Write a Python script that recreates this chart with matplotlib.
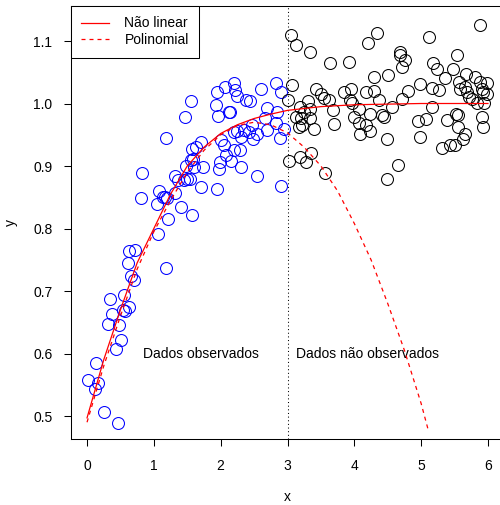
import matplotlib
matplotlib.use("Agg")
import matplotlib.pyplot as plt
from matplotlib.lines import Line2D

plt.rcParams['font.family'] = ['Liberation Sans', 'DejaVu Sans']

# Observed data (blue), x in [0, 3]
obs_x = [0.607, 1.179, 0.657, 0.706, 0.348, 0.557, 0.369, 0.533, 0.631, 0.567,
         0.309, 0.482, 0.507, 0.433, 0.134, 0.010, 0.160, 0.119, 0.258, 0.463,
         1.179, 0.821, 1.313, 1.363, 1.079, 1.313, 1.130, 1.204, 1.174, 0.806,
         1.045, 1.219, 1.064, 0.631, 0.721,
         2.199, 2.064, 1.951, 2.213, 2.249, 2.373, 2.433, 2.607, 2.831, 2.906,
         1.563, 1.936, 1.966, 2.124, 2.139, 1.473, 2.697, 2.846, 2.661, 2.821,
         2.473, 2.955, 2.885, 2.687, 2.548, 2.488, 2.422, 2.348, 2.299, 2.199,
         2.249, 2.000, 2.049, 1.701, 1.627, 1.578, 2.199, 2.288, 2.075, 2.149,
         1.990, 1.970, 2.299, 1.742, 1.593, 1.563, 1.478, 1.601, 2.537, 2.896,
         1.701, 1.940, 1.452, 1.542, 1.403, 1.503, 1.578]
obs_y = [0.745, 0.737, 0.724, 0.717, 0.687, 0.693, 0.664, 0.670, 0.674, 0.668,
         0.648, 0.645, 0.621, 0.607, 0.585, 0.558, 0.553, 0.544, 0.507, 0.489,
         0.945, 0.889, 0.884, 0.877, 0.860, 0.857, 0.850, 0.849, 0.850, 0.849,
         0.839, 0.815, 0.791, 0.764, 0.765,
         1.033, 1.027, 1.019, 1.022, 1.012, 1.006, 1.004, 1.023, 1.033, 1.018,
         1.004, 0.997, 0.980, 0.987, 0.986, 0.979, 0.993, 0.986, 0.977, 0.969,
         0.966, 0.960, 0.945, 0.957, 0.952, 0.943, 0.955, 0.958, 0.947, 0.954,
         0.956, 0.941, 0.934, 0.938, 0.930, 0.927, 0.925, 0.925, 0.918, 0.908,
         0.906, 0.896, 0.898, 0.898, 0.912, 0.909, 0.900, 0.898, 0.884, 0.868,
         0.867, 0.863, 0.878, 0.880, 0.834, 0.879, 0.822]

# Unobserved data (black), x in [3, 6]
new_x = [3.045, 3.134, 3.343, 4.339, 4.199, 3.631, 3.925, 3.070, 3.004, 3.433,
         3.503, 3.542, 3.627, 3.840, 3.955, 3.940, 3.966, 4.179, 4.299, 4.288,
         4.369, 4.497, 3.303, 3.194, 3.343, 3.243, 3.134, 3.204, 3.343, 3.219,
         3.169, 3.393, 3.676, 3.691, 4.064, 4.000, 4.228, 4.064, 4.179, 4.228,
         4.090, 4.413, 4.488, 3.194, 3.354, 3.284, 3.019, 3.557, 4.488,
         5.881, 5.124, 4.687, 4.687, 4.761, 4.712, 5.533, 5.175, 5.243, 5.482,
         5.358, 5.672, 5.806, 5.881, 5.990, 5.572, 5.657, 5.582, 5.682, 5.721,
         5.757, 5.906, 5.930, 5.981, 5.840, 5.940, 4.985, 5.160, 5.273, 4.796,
         4.716, 4.563, 5.160, 4.437, 4.960, 5.075, 5.393, 5.522, 5.557, 5.557,
         5.906, 5.930, 5.657, 5.631, 5.507, 5.433, 5.309, 4.985, 4.661]
new_y = [1.109, 1.093, 1.082, 1.112, 1.097, 1.065, 1.066, 1.029, 1.006, 1.023,
         1.015, 1.009, 1.006, 1.019, 1.023, 1.005, 1.001, 1.018, 1.043, 1.020,
         1.006, 1.046, 1.004, 0.994, 0.992, 0.986, 0.979, 0.977, 0.977, 0.965,
         0.962, 0.960, 0.990, 0.968, 0.992, 0.979, 0.983, 0.969, 0.965, 0.956,
         0.952, 0.981, 0.944, 0.914, 0.921, 0.906, 0.908, 0.889, 0.880,
         1.126, 1.106, 1.082, 1.077, 1.069, 1.059, 1.077, 1.065, 1.056, 1.056,
         1.041, 1.048, 1.043, 1.035, 1.033, 1.035, 1.027, 1.023, 1.018, 1.011,
         1.008, 1.024, 1.018, 1.015, 1.001, 1.001, 1.031, 1.025, 1.022, 1.020,
         1.008, 0.995, 0.994, 0.979, 0.972, 0.976, 0.974, 0.984, 0.981, 0.963,
         0.978, 0.963, 0.952, 0.944, 0.934, 0.933, 0.929, 0.947, 0.902]

# Non-linear fit curve
nl_x = [0.0, 0.25, 0.5, 0.75, 1.0, 1.25, 1.5, 1.75, 2.0, 2.25, 2.5, 2.75, 3.0,
        3.5, 4.0, 4.5, 5.0, 5.5, 6.0]
nl_y = [0.497, 0.59, 0.67, 0.745, 0.80, 0.855, 0.90, 0.93, 0.952, 0.966, 0.976,
        0.983, 0.989, 0.995, 0.998, 0.999, 1.0, 1.0, 1.0]

# Polynomial fit curve
pol_x = [0.0, 0.25, 0.5, 0.75, 1.0, 1.25, 1.5, 1.75, 2.0, 2.25, 2.5, 2.75, 3.0,
         3.25, 3.5, 3.75, 4.0, 4.25, 4.5, 4.75, 5.0, 5.1]
pol_y = [0.49, 0.58, 0.66, 0.735, 0.795, 0.845, 0.89, 0.925, 0.95, 0.965, 0.97,
         0.966, 0.953, 0.93, 0.90, 0.86, 0.808, 0.75, 0.68, 0.605, 0.52, 0.48]

x_ticks = [0, 1, 2, 3, 4, 5, 6]
y_ticks = [0.5, 0.6, 0.7, 0.8, 0.9, 1.0, 1.1]

W, H = 500, 505
FS = 10
fig = plt.figure(figsize=(W / 100, H / 100), dpi=100)
ax = fig.add_axes([71 / W, (H - 438.5) / H, (504 - 71) / W, (438.5 - 6) / H])

ms = 8.6
ax.plot(obs_x, obs_y, 'o', mfc='none', mec='#0000FF', mew=0.75, ms=ms, zorder=3)
ax.plot(new_x, new_y, 'o', mfc='none', mec='black', mew=0.75, ms=ms, zorder=3)

ax.plot(nl_x, nl_y, color='#FF0000', lw=0.9, zorder=4)
ax.plot(pol_x, pol_y, color='#FF0000', lw=0.9, linestyle=(0, (3.2, 3.2)), zorder=4)

ax.axvline(3, color='black', lw=0.75, linestyle=(0, (1, 2.5)), zorder=2)

ax.text(1.7, 0.6, 'Dados observados', ha='center', va='center', fontsize=FS)
ax.text(4.2, 0.6, 'Dados não observados', ha='center', va='center', fontsize=FS)

ax.set_xlim(-0.24, 6.24)
ax.set_ylim(0.464, 1.156)
ax.set_xticks(x_ticks)
ax.set_xticklabels([str(t) for t in x_ticks])
ax.set_yticks(y_ticks)
ax.set_yticklabels([f'{t:.1f}' for t in y_ticks])
ax.tick_params(axis='both', length=5, width=0.75, labelsize=FS, color='black')
ax.tick_params(axis='x', pad=10)
ax.tick_params(axis='y', pad=8.5)
for s in ax.spines.values():
    s.set_linewidth(0.75)

ax.set_xlabel('x', fontsize=FS, va='baseline')
ax.set_ylabel('y', fontsize=FS)
ax.xaxis.set_label_coords(0.5, (438.5 - 501) / 432.5)
ax.yaxis.set_label_coords((18 - 71) / 433, 0.5)

handles = [Line2D([], [], color='#FF0000', lw=0.9),
           Line2D([], [], color='#FF0000', lw=0.9, linestyle=(0, (3.2, 3.2)))]
leg = ax.legend(handles, ['Não linear', 'Polinomial'], loc='upper left',
                bbox_to_anchor=(0, 1), borderaxespad=0, fancybox=False,
                edgecolor='black', framealpha=1, fontsize=FS,
                handlelength=2.0, handletextpad=1.1, borderpad=0.75,
                labelspacing=0.2)
leg.get_frame().set_linewidth(0.75)

fig.savefig('out.png', dpi=100)
